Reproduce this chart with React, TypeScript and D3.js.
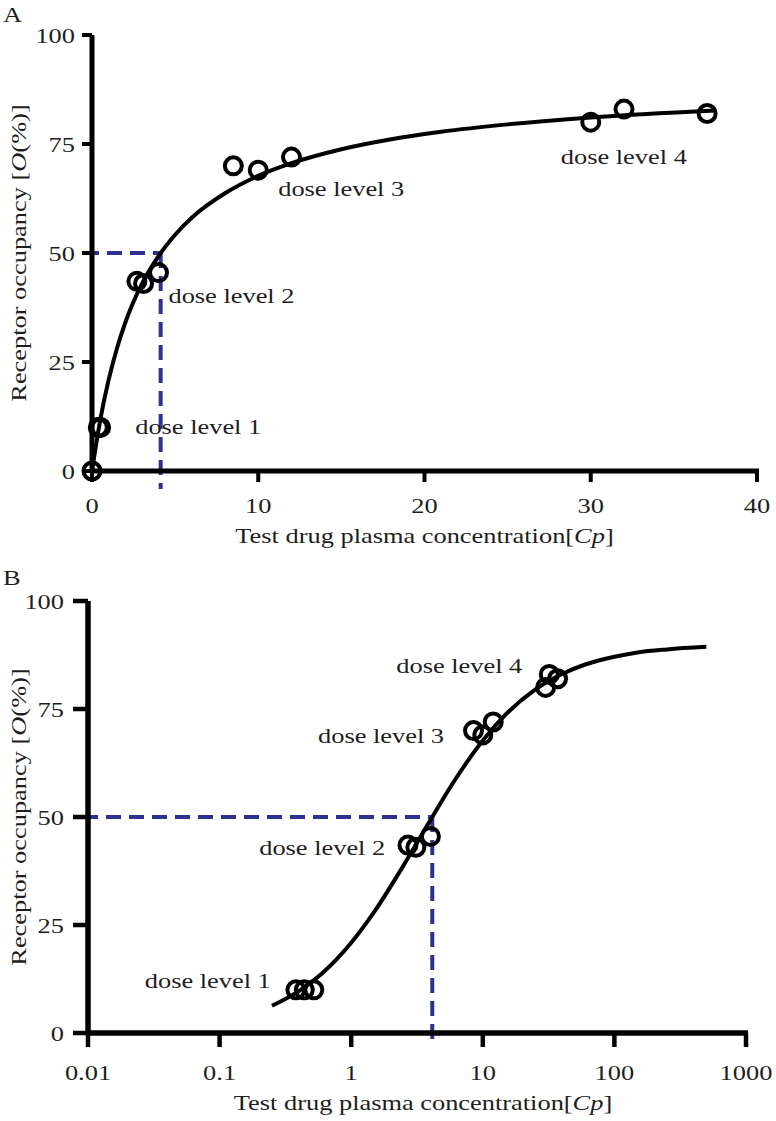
import React from "react";
import * as d3 from "d3";

// ---- data ----
const doseConc = [0, 0.38, 0.44, 0.52, 2.7, 3.1, 4.0, 8.5, 10, 12, 30, 32, 37];
const doseOcc = [0, 10, 10, 10, 43.5, 43, 45.5, 70, 69, 72, 80, 83, 82];

// fitted curve, panel A (linear concentration)
const curveAConc = [0, 0.5, 1, 1.5, 2, 3, 4, 5, 6, 8, 10, 12, 15, 18, 21, 25, 30, 37.5];
const curveAOcc = [0, 11.8, 20.9, 28.1, 34.0, 42.9, 49.3, 54.2, 58.1, 63.7, 67.7, 70.6, 73.8, 76.1, 77.8, 79.5, 81.1, 82.7];

// fitted curve, panel B (log concentration)
const curveBConc = [0.25, 0.4, 0.6, 1, 1.5, 2.5, 4, 6, 10, 15, 25, 40, 60, 100, 150, 250, 500];
const curveBOcc = [6.3, 9.7, 13.8, 20.9, 28.1, 38.8, 49.3, 58.1, 67.7, 73.8, 79.5, 83.1, 85.3, 87.1, 88.1, 88.8, 89.4];

const ec50Conc = 4.13;
const halfOcc = 50;

const xTicksA = [0, 10, 20, 30, 40];
const xTicksB = [0.01, 0.1, 1, 10, 100, 1000];
const xTickLabelsB = ["0.01", "0.1", "1", "10", "100", "1000"];
const yTicks = [0, 25, 50, 75, 100];

const doseLabels = ["dose level 1", "dose level 2", "dose level 3", "dose level 4"];

// ---- styling ----
const FONT = '"Liberation Serif", "Times New Roman", serif';
const TXT = "#1e1e1e";
const BLUE = "#2e3192";
const SX = 1.2;

function T({ x, y, anchor = "start", rot = false, size = 22, children }: any) {
  return (
    <text
      transform={`translate(${x},${y})${rot ? " rotate(-90)" : ""} scale(${SX},1)`}
      textAnchor={anchor}
      fontFamily={FONT}
      fontSize={size}
      fill={TXT}
    >
      {children}
    </text>
  );
}

export default function App() {
  // Panel A scales
  const xA = d3.scaleLinear().domain([0, 40]).range([92, 757]);
  const yA = d3.scaleLinear().domain([0, 100]).range([471, 35]);
  // Panel B scales
  const xB = d3.scaleLog().domain([0.01, 1000]).range([88, 746]);
  const yB = d3.scaleLinear().domain([0, 100]).range([1033, 601]);

  const lineA = d3
    .line<number>()
    .x((_, i) => xA(curveAConc[i]))
    .y((d) => yA(d))
    .curve(d3.curveMonotoneX);
  const lineB = d3
    .line<number>()
    .x((_, i) => xB(curveBConc[i]))
    .y((d) => yB(d))
    .curve(d3.curveMonotoneX);

  const ptsA = doseConc.map((c, i) => ({ x: xA(c), y: yA(doseOcc[i]) }));
  const ptsB = doseConc
    .map((c, i) => ({ c, o: doseOcc[i] }))
    .filter((d) => d.c > 0)
    .map((d) => ({ x: xB(d.c), y: yB(d.o) }));

  const axisW = 5;
  const dash = "15,8";

  // label anchor positions (left x / baseline y) in data coordinates
  const labA = [
    { x: xA(2.6), y: yA(8.6) },
    { x: xA(4.6), y: yA(38.5) },
    { x: xA(11.2), y: yA(63) },
    { x: xA(28.2), y: yA(70.3) },
  ];
  const labB = [
    { x: xB(0.027), y: yB(10.4) },
    { x: xB(0.2), y: yB(41.3) },
    { x: xB(0.56), y: yB(67.2) },
    { x: xB(2.2), y: yB(83.4) },
  ];

  return (
    <svg
      width={776}
      height={1121}
      style={{ position: "absolute", left: 0, top: 0, background: "#fff" }}
    >
      <rect width={776} height={1121} fill="#fff" />

      {/* ================= Panel A ================= */}
      <T x={3} y={22}>A</T>

      {/* dashed EC50 guides */}
      <line x1={xA(0) - 8} x2={xA(ec50Conc)} y1={yA(halfOcc)} y2={yA(halfOcc)} stroke={BLUE} strokeWidth={4} strokeDasharray={dash} />
      <line x1={xA(ec50Conc)} x2={xA(ec50Conc)} y1={yA(halfOcc)} y2={yA(0) + 18} stroke={BLUE} strokeWidth={4} strokeDasharray={dash} />

      {/* axes */}
      <line x1={xA(0)} x2={xA(0)} y1={yA(100)} y2={yA(0) + 2} stroke="#000" strokeWidth={axisW} />
      <line x1={xA(0) - 2} x2={xA(40) + 2} y1={yA(0)} y2={yA(0)} stroke="#000" strokeWidth={axisW} />
      {yTicks.map((t) => (
        <g key={"ya" + t}>
          <line x1={xA(0) - 10} x2={xA(0)} y1={yA(t)} y2={yA(t)} stroke="#000" strokeWidth={4} />
          <T x={75} y={yA(t) + 8} anchor="end">{t}</T>
        </g>
      ))}
      {xTicksA.map((t) => (
        <g key={"xa" + t}>
          <line x1={xA(t)} x2={xA(t)} y1={yA(0)} y2={yA(0) + 11} stroke="#000" strokeWidth={4} />
          <T x={xA(t)} y={513} anchor="middle">{t}</T>
        </g>
      ))}
      <T x={xA(20)} y={543} anchor="middle">
        Test drug plasma concentration[<tspan fontStyle="italic">Cp</tspan>]
      </T>
      <T x={26} y={yA(50)} anchor="middle" rot>
        Receptor occupancy [<tspan fontStyle="italic">O</tspan>(%)]
      </T>

      {/* curve */}
      <path d={lineA(curveAOcc) || ""} fill="none" stroke="#000" strokeWidth={4} />
      {/* points */}
      {ptsA.map((p, i) => (
        <circle key={"pa" + i} cx={p.x} cy={p.y} r={8.5} fill="none" stroke="#000" strokeWidth={4} />
      ))}
      {doseLabels.map((l, i) => (
        <T key={"la" + i} x={labA[i].x} y={labA[i].y}>{l}</T>
      ))}

      {/* ================= Panel B ================= */}
      <T x={3} y={585}>B</T>

      <line x1={xB(0.01) - 5} x2={xB(ec50Conc)} y1={yB(halfOcc)} y2={yB(halfOcc)} stroke={BLUE} strokeWidth={4} strokeDasharray={dash} />
      <line x1={xB(ec50Conc)} x2={xB(ec50Conc)} y1={yB(halfOcc)} y2={yB(0) + 9} stroke={BLUE} strokeWidth={4} strokeDasharray={dash} />

      <line x1={xB(0.01)} x2={xB(0.01)} y1={yB(100)} y2={yB(0) + 2} stroke="#000" strokeWidth={axisW + 0.5} />
      <line x1={xB(0.01) - 2} x2={xB(1000) + 2} y1={yB(0)} y2={yB(0)} stroke="#000" strokeWidth={axisW + 0.5} />
      {yTicks.map((t) => (
        <g key={"yb" + t}>
          <line x1={xB(0.01) - 15} x2={xB(0.01)} y1={yB(t)} y2={yB(t)} stroke="#000" strokeWidth={4.5} />
          <T x={64} y={yB(t) + 8} anchor="end">{t}</T>
        </g>
      ))}
      {xTicksB.map((t, i) => (
        <g key={"xb" + t}>
          <line x1={xB(t)} x2={xB(t)} y1={yB(0)} y2={yB(0) + 14} stroke="#000" strokeWidth={4.5} />
          <T x={xB(t)} y={1080} anchor="middle">{xTickLabelsB[i]}</T>
        </g>
      ))}
      <T x={423} y={1110} anchor="middle">
        Test drug plasma concentration[<tspan fontStyle="italic">Cp</tspan>]
      </T>
      <T x={26} y={yB(50)} anchor="middle" rot>
        Receptor occupancy [<tspan fontStyle="italic">O</tspan>(%)]
      </T>

      <path d={lineB(curveBOcc) || ""} fill="none" stroke="#000" strokeWidth={4} />
      {ptsB.map((p, i) => (
        <circle key={"pb" + i} cx={p.x} cy={p.y} r={8.5} fill="none" stroke="#000" strokeWidth={4} />
      ))}
      {doseLabels.map((l, i) => (
        <T key={"lb" + i} x={labB[i].x} y={labB[i].y}>{l}</T>
      ))}
    </svg>
  );
}
